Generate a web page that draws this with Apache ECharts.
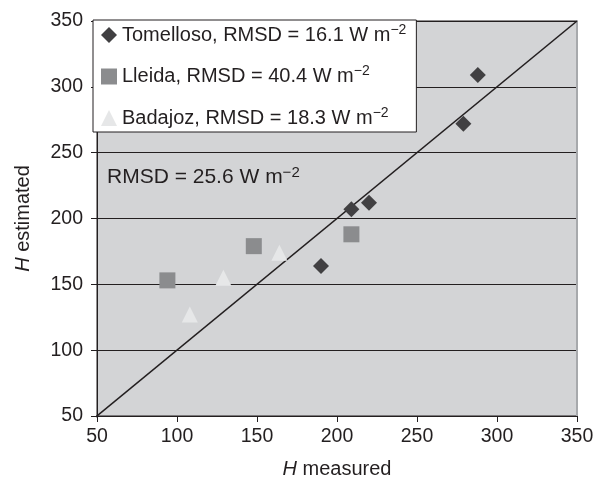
<!DOCTYPE html>
<html lang="en">
    <head>
        <meta charset="UTF-8">
        <title>H estimated vs H measured</title>
        <script src="https://cdn.jsdelivr.net/npm/echarts@6/dist/echarts.min.js"></script>
        <style type="text/css">
            body { margin: 0; background: #fff; }
            #main { width: 603px; height: 484px; }
        </style>
    </head>
    <body>
        <div id="main"></div>
    </body>

    <script type="text/javascript">
        // data
        var sites = ['Tomelloso', 'Lleida', 'Badajoz'];
        var rmsd = ['16.1', '40.4', '18.3'];
        var tomelloso = [[190, 164], [209, 207], [220, 212], [279, 272], [288, 309]];
        var lleida = [[94, 153], [148, 179], [209, 188]];
        var badajoz = [[108, 127], [129, 155], [164, 174]];
        var oneToOne = [[47, 47], [350, 350]];
        var totalRmsd = '25.6';
        var axisMin = 50, axisMax = 350, axisStep = 50;

        var ink = '#231f20';
        var font = '"Liberation Sans", Arial, sans-serif';
        var symbols = ['diamond', 'rect', 'triangle'];
        var colors = ['#414042', '#8b8c8e', '#e6e7e8'];
        var points = [tomelloso, lleida, badajoz];

        var myChart = echarts.init(document.getElementById('main'));

        var series = [{
            name: 'line',
            type: 'line',
            data: oneToOne,
            symbol: 'none',
            clip: false,
            silent: true,
            lineStyle: { color: ink, width: 1.6 },
            z: 2
        }];
        var legendNames = [];
        for (var i = 0; i < sites.length; i++) {
            var nm = sites[i] + ', RMSD = ' + rmsd[i] + ' W m';
            legendNames.push(nm);
            series.push({
                name: nm,
                type: 'scatter',
                data: points[i],
                symbol: symbols[i],
                symbolSize: 16,
                itemStyle: { color: colors[i], opacity: 1 },
                z: 3
            });
        }

        myChart.setOption({
            animation: false,
            textStyle: { fontFamily: font },
            grid: {
                left: 97, right: 26, top: 21, bottom: 62,
                show: true,
                backgroundColor: '#d3d4d6',
                borderColor: ink,
                borderWidth: 1
            },
            legend: {
                data: legendNames,
                orient: 'vertical',
                left: 93,
                top: 20,
                padding: [3, 10, 2, 8],
                itemGap: 17.5,
                itemWidth: 16,
                itemHeight: 16,
                backgroundColor: '#ffffff',
                borderColor: ink,
                borderWidth: 1,
                borderRadius: 0,
                z: 10,
                formatter: function (name) {
                    return name + '{sup|\u22122}';
                },
                textStyle: {
                    fontFamily: font,
                    fontSize: 20,
                    lineHeight: 24,
                    color: ink,
                    rich: {
                        sup: { fontFamily: font, fontSize: 14, lineHeight: 16, verticalAlign: 'top', color: ink }
                    }
                }
            },
            xAxis: {
                type: 'value',
                min: axisMin, max: axisMax, interval: axisStep,
                name: '{i|H} measured',
                nameLocation: 'middle',
                nameGap: 43,
                nameTextStyle: {
                    fontFamily: font, fontSize: 20, color: ink,
                    rich: { i: { fontFamily: font, fontSize: 20, fontStyle: 'italic', color: ink } }
                },
                axisLine: { lineStyle: { color: ink, width: 1 } },
                axisTick: { show: true, inside: false, length: 6, lineStyle: { color: ink } },
                axisLabel: { fontFamily: font, fontSize: 19.5, color: ink, margin: 11 },
                splitLine: { show: false }
            },
            yAxis: [{
                type: 'value',
                min: axisMin, max: axisMax, interval: axisStep,
                name: '{i|H} estimated',
                nameLocation: 'middle',
                nameGap: 64,
                nameRotate: 90,
                nameTextStyle: {
                    fontFamily: font, fontSize: 20, color: ink,
                    rich: { i: { fontFamily: font, fontSize: 20, fontStyle: 'italic', color: ink } }
                },
                axisLine: { show: true, lineStyle: { color: ink, width: 1 } },
                axisTick: { show: true, inside: false, length: 6, lineStyle: { color: ink } },
                axisLabel: { fontFamily: font, fontSize: 19.5, color: ink, margin: 14 },
                splitLine: { show: true, lineStyle: { color: ink, width: 1 } }
            }, {
                type: 'value',
                position: 'right',
                min: axisMin, max: axisMax, interval: axisStep,
                axisLine: { show: true, lineStyle: { color: '#a7a9ac', width: 2 } },
                axisTick: { show: false },
                axisLabel: { show: false },
                splitLine: { show: false }
            }],
            graphic: [{
                type: 'text',
                left: 107,
                top: 165,
                z: 5,
                style: {
                    text: 'RMSD = ' + totalRmsd + ' W m{sup|\u22122}',
                    fontFamily: font,
                    fontSize: 21,
                    lineHeight: 24,
                    fill: ink,
                    rich: {
                        sup: { fontFamily: font, fontSize: 15, lineHeight: 16, verticalAlign: 'top', fill: ink }
                    }
                }
            }],
            series: series
        });
    </script>
</html>
